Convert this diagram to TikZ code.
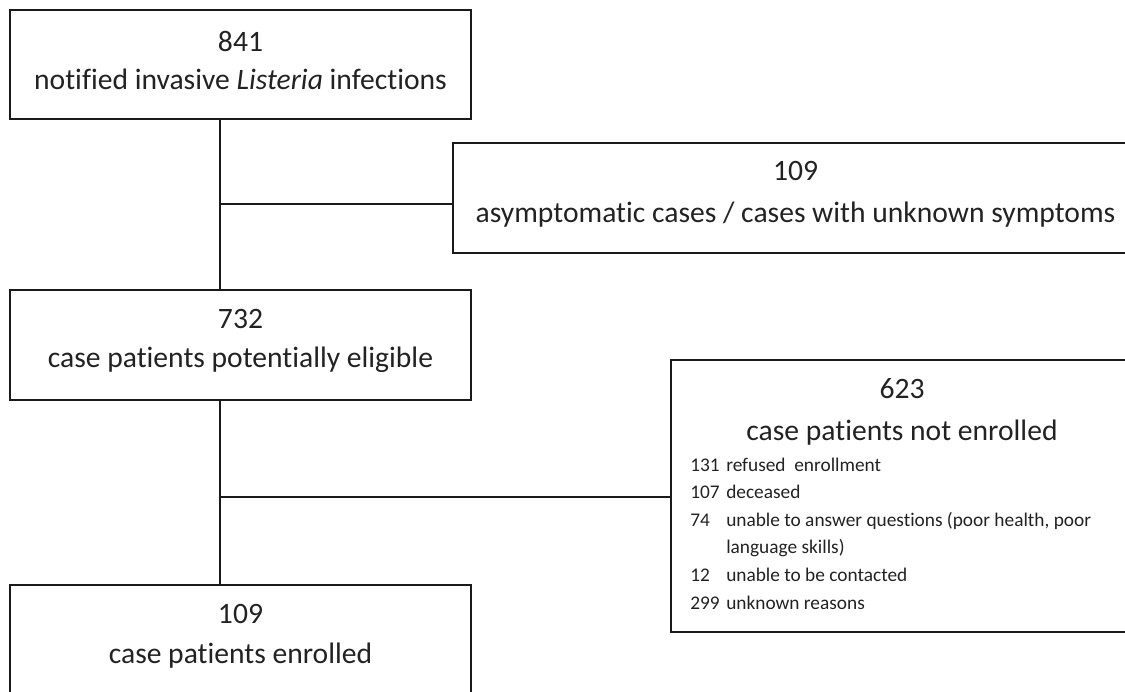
\documentclass[tikz,border=0pt]{standalone}
\usepackage{fontspec}
\setmainfont{Carlito}[Ligatures={NoCommon,NoRare,NoDiscretionary}]
\usepackage{tikz}
\usetikzlibrary{calc}
\definecolor{ink}{HTML}{1A1A1A}
\definecolor{txt}{HTML}{222222}
\def\bigtext{\fontsize{22.2}{28.5}\selectfont}
\def\smalltext{\fontsize{14.5}{20.7}\selectfont}

\begin{document}
\begin{tikzpicture}[x=0.75pt,y=-0.75pt,
		box/.style={draw=ink,line width=1.8pt,rectangle,inner sep=0pt},
		boxtext/.style={inner sep=0pt,align=center,text=txt,font=\bigtext,yshift=2.8pt},
		conn/.style={draw=ink,line width=1.4pt}]
					\useasboundingbox (0,0) rectangle (1125,692);
					\clip (0,0) rectangle (1125,692);
					% boxes
					\node[box,minimum width=345.75pt,minimum height=81.75pt] (infect) at (240.5,64.5) {};
					\node[box,minimum width=513.75pt,minimum height=82.5pt] (asym) at (795.5,198) {};
					\node[box,minimum width=345.75pt,minimum height=82.5pt] (elig) at (240.5,345) {};
					\node[box,minimum width=346.5pt,minimum height=204pt] (notenr) at (902,496) {};
					\node[box,minimum width=345.75pt,minimum height=82.5pt] (enr) at (240.5,640) {};
					% box texts
					\node[boxtext] (infecttext) at (infect.center) {841\\notified invasive \textit{Listeria} infections};
					\node[boxtext] (asymtext) at (asym.center) {109\\[3pt]asymptomatic cases / cases with unknown symptoms};
					\node[boxtext] (eligtext) at (elig.center) {732\\[1pt]case patients potentially eligible};
					\node[boxtext] (enrtext) at (enr.center) {109\\[2pt]case patients enrolled};
					% not enrolled text
					\node[anchor=base,inner sep=0pt,text=txt,font=\bigtext] (notenrnum) at (902,398) {623};
					\node[anchor=base,inner sep=0pt,text=txt,font=\bigtext] (notenrhead) at (902,440) {case patients not enrolled};
					\node[anchor=base west,inner sep=0pt,text=txt,font=\smalltext] (reasons) at (690,471) {%
						\begin{tabular}[t]{@{}p{27pt}@{}l@{}}
							131 & refused\ \ enrollment\\
							107 & deceased\\
							74 & unable to answer questions (poor health, poor\\
							 & language skills)\\
							12 & unable to be contacted\\
							299 & unknown reasons
						\end{tabular}};
					% connectors
					\coordinate (tee1) at (220,204);
					\coordinate (tee2) at (220,497);
					\draw[conn] (infect.south -| tee1)--(elig.north -| tee1);
					\draw[conn] (tee1)--(tee1 -| asym.west);
					\draw[conn] (elig.south -| tee2)--(enr.north -| tee2);
					\draw[conn] (tee2)--(tee2 -| notenr.west);
				\end{tikzpicture}
\end{document}
